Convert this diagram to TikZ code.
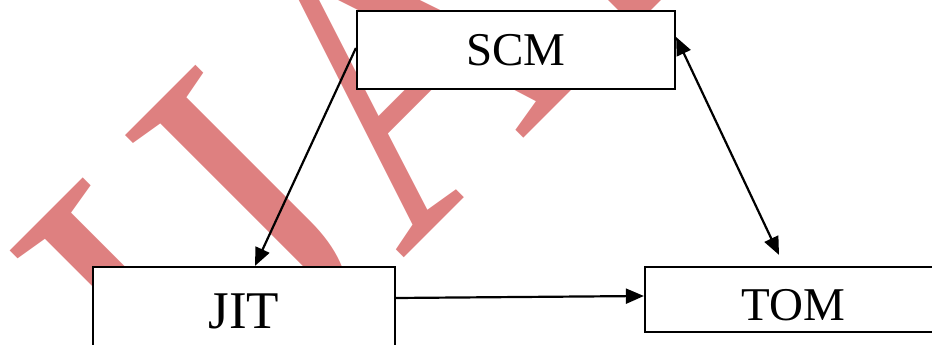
\documentclass[tikz,border=0pt]{standalone}
\usepackage{fontspec}
\setmainfont{Liberation Serif}
\usetikzlibrary{arrows.meta,calc}
\definecolor{wm}{RGB}{222,128,128}
\begin{document}
\begin{tikzpicture}[x=1pt,y=1pt,
  box/.style={draw=black, line width=2.2pt, fill=white, inner sep=0pt, anchor=center},
  conn/.style={line width=2.2pt, -{Triangle[length=18pt,width=15pt]}},
  conn2/.style={line width=2.2pt, {Triangle[length=18pt,width=15pt]}-{Triangle[length=18pt,width=15pt]}}]
\useasboundingbox (0,0) rectangle (932,345);
\clip (0,0) rectangle (932,345);
% watermark
\node[rotate=45, xscale=0.912, anchor=base west, inner sep=0pt, text=wm, font=\fontsize{433}{433}\selectfont] (wmark) at (200,-117) {IJARIIE};
% boxes
\node[box, minimum width=318, minimum height=78, font=\fontsize{47}{47}\selectfont, text height=31pt, text depth=0pt] (scm) at (516,295) {SCM};
\node[box, minimum width=302, minimum height=88, font=\fontsize{53}{53}\selectfont, text height=35pt, text depth=0pt] (jit) at (244,34) {JIT};
\node[box, minimum width=297, minimum height=65, font=\fontsize{47}{47}\selectfont, text height=42pt, text depth=0pt] (tom) at (793.5,45.5) {TOM};
% connectors
\draw[conn] ($(scm.west)+(0,2)$) -- ($(jit.north)+(11,0)$);
\draw[conn] ($(jit.east)+(0,13)$) -- ($(tom.west)+(0,3.5)$);
\draw[conn2] ($(scm.east)+(0,13)$) -- ($(tom.north)+(-14.5,11)$);
\end{tikzpicture}
\end{document}
